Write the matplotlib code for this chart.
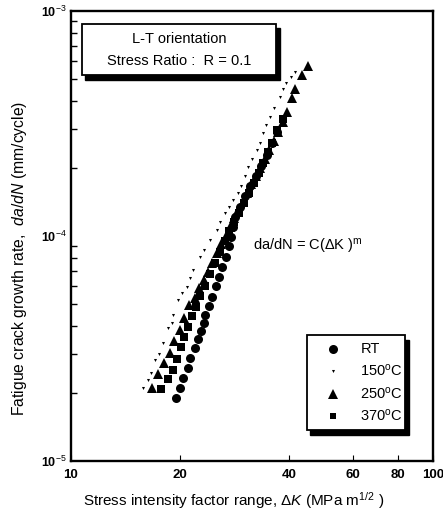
import matplotlib
matplotlib.use("Agg")
import matplotlib.pyplot as plt
from matplotlib.patches import Rectangle
from matplotlib.lines import Line2D

plt.rcParams['font.family'] = ['Liberation Sans', 'DejaVu Sans']
plt.rcParams['mathtext.fontset'] = 'custom'
plt.rcParams['mathtext.rm'] = 'Liberation Sans'
plt.rcParams['mathtext.it'] = 'Liberation Sans:italic'

# Fatigue crack growth data, delta K (MPa m^1/2) vs da/dN (mm/cycle)
rt_dk = [19.5, 20.0, 20.4, 21.0, 21.4, 22.0, 22.5, 22.9, 23.3, 23.5, 24.1, 24.5,
         25.2, 25.6, 26.1, 26.8, 27.4, 27.7, 28.1, 28.4, 29.3, 30.2, 31.2, 32.4,
         33.6, 34.8, 36.0, 37.2]
rt_rate = [1.91e-5, 2.12e-5, 2.35e-5, 2.60e-5, 2.88e-5, 3.17e-5, 3.47e-5, 3.78e-5,
           4.09e-5, 4.44e-5, 4.89e-5, 5.37e-5, 6.0e-5, 6.6e-5, 7.3e-5, 8.1e-5,
           9.0e-5, 9.9e-5, 1.10e-4, 1.22e-4, 1.35e-4, 1.50e-4, 1.66e-4, 1.85e-4,
           2.05e-4, 2.3e-4, 2.6e-4, 2.9e-4]

t150_dk = [15.8, 16.3, 16.7, 17.1, 17.5, 18.0, 18.6, 19.0, 19.2, 19.8, 20.3, 20.9,
           21.3, 21.8, 22.7, 23.3, 24.2, 25.3, 25.8, 26.6, 27.3, 28.1, 29.0, 29.6,
           30.3, 30.9, 31.7, 32.6, 33.3, 34.0, 34.7, 35.4, 36.5, 37.8, 38.5, 39.4,
           40.5, 41.6]
t150_rate = [2.12e-5, 2.3e-5, 2.45e-5, 2.81e-5, 3.0e-5, 3.33e-5, 3.89e-5, 4.1e-5,
             4.46e-5, 5.19e-5, 5.6e-5, 5.95e-5, 6.5e-5, 7.06e-5, 8.10e-5, 8.7e-5,
             9.6e-5, 1.06e-4, 1.15e-4, 1.26e-4, 1.35e-4, 1.44e-4, 1.55e-4, 1.66e-4,
             1.85e-4, 2.03e-4, 2.2e-4, 2.4e-4, 2.6e-4, 2.86e-4, 3.1e-4, 3.38e-4,
             3.7e-4, 4.16e-4, 4.5e-4, 4.77e-4, 5.1e-4, 5.38e-4]

t250_dk = [16.8, 17.4, 18.1, 18.8, 19.3, 20.0, 20.6, 21.2, 22.0, 22.6, 23.3, 24.0,
           24.6, 25.3, 26.0, 26.8, 27.5, 28.3, 29.0, 29.8, 30.6, 31.5, 32.4, 33.3,
           34.3, 35.3, 36.3, 37.4, 38.5, 39.5, 40.7, 41.5, 43.4, 45.3]
t250_rate = [2.12e-5, 2.43e-5, 2.72e-5, 3.03e-5, 3.42e-5, 3.82e-5, 4.33e-5, 4.94e-5,
             5.3e-5, 5.9e-5, 6.4e-5, 6.9e-5, 7.6e-5, 8.4e-5, 9.2e-5, 1.0e-4, 1.1e-4,
             1.2e-4, 1.3e-4, 1.42e-4, 1.55e-4, 1.7e-4, 1.85e-4, 2.0e-4, 2.2e-4,
             2.4e-4, 2.65e-4, 2.9e-4, 3.2e-4, 3.55e-4, 4.1e-4, 4.5e-4, 5.2e-4, 5.7e-4]

t370_dk = [17.7, 18.6, 19.2, 19.7, 20.1, 20.6, 21.1, 21.6, 22.2, 22.8, 23.5, 24.2,
           25.0, 25.8, 26.6, 27.4, 28.2, 29.1, 30.0, 31.0, 32.0, 33.0, 34.0, 35.0,
           36.0, 37.2, 38.5]
t370_rate = [2.08e-5, 2.31e-5, 2.54e-5, 2.85e-5, 3.22e-5, 3.55e-5, 3.95e-5, 4.4e-5,
             4.85e-5, 5.4e-5, 6.0e-5, 6.8e-5, 7.6e-5, 8.5e-5, 9.5e-5, 1.05e-4,
             1.15e-4, 1.27e-4, 1.4e-4, 1.55e-4, 1.72e-4, 1.9e-4, 2.1e-4, 2.35e-4,
             2.6e-4, 2.95e-4, 3.3e-4]

series_labels = ["RT", "150$^{\\mathrm{o}}$C", "250$^{\\mathrm{o}}$C", "370$^{\\mathrm{o}}$C"]
x_ticks = [10, 20, 40, 60, 80, 100]

fig = plt.figure(figsize=(4.43, 5.21), dpi=100)
ax = fig.add_axes([0.160, 0.115, 0.817, 0.864])
ax.set_xscale('log')
ax.set_yscale('log')
ax.set_xlim(10, 100)
ax.set_ylim(1e-5, 1e-3)

ax.plot(t150_dk, t150_rate, linestyle='none', marker='v', markersize=2.2,
        color='black', markeredgewidth=0)
ax.plot(t250_dk, t250_rate, linestyle='none', marker='^', markersize=6.8,
        color='black', markeredgewidth=0)
ax.plot(t370_dk, t370_rate, linestyle='none', marker='s', markersize=5.8,
        color='black', markeredgewidth=0)
ax.plot(rt_dk, rt_rate, linestyle='none', marker='o', markersize=6.5,
        color='black', markeredgewidth=0)

for s in ax.spines.values():
    s.set_linewidth(1.7)

ax.set_xticks(x_ticks)
ax.set_xticklabels([str(t) for t in x_ticks])
ax.xaxis.set_minor_locator(matplotlib.ticker.NullLocator())
ax.set_yticks([1e-5, 1e-4, 1e-3])
ax.set_yticklabels(["10$^{-5}$", "10$^{-4}$", "10$^{-3}$"])
ax.yaxis.set_minor_locator(matplotlib.ticker.LogLocator(base=10, subs=range(2, 10)))
ax.yaxis.set_minor_formatter(matplotlib.ticker.NullFormatter())
ax.tick_params(axis='both', which='both', direction='in')
ax.tick_params(axis='x', which='major', length=4, labelsize=9.5, pad=6)
ax.tick_params(axis='y', which='major', length=0, labelsize=9, pad=3)
ax.tick_params(axis='y', which='minor', length=4, width=1)
for lab in ax.get_xticklabels() + ax.get_yticklabels():
    lab.set_fontweight('bold')

# Boxes with a drop shadow
def shadow_box(x0, y0, w, h, off=0.010):
    ax.add_patch(Rectangle((x0 + off, y0 - off * 1.1), w, h, transform=ax.transAxes,
                           facecolor='black', edgecolor='black', zorder=5))
    ax.add_patch(Rectangle((x0, y0), w, h, transform=ax.transAxes,
                           facecolor='white', edgecolor='black', linewidth=1.3, zorder=6))

shadow_box(0.030, 0.858, 0.538, 0.114)
ax.text(0.300, 0.938, "L-T orientation", transform=ax.transAxes, ha='center',
        va='center', fontsize=10.5, zorder=7)
ax.text(0.300, 0.888, "Stress Ratio :  R = 0.1", transform=ax.transAxes, ha='center',
        va='center', fontsize=10.5, zorder=7)

ax.text(0.503, 0.476, "da/dN = C($\\Delta$K )$^{\\mathrm{m}}$", transform=ax.transAxes,
        ha='left', va='center', fontsize=10.5)

shadow_box(0.652, 0.070, 0.272, 0.210)
legend_items = [('o', 6.5), ('v', 2.2), ('^', 6.5), ('s', 5.0)]
for i, ((mk, ms), lab) in enumerate(zip(legend_items, series_labels)):
    yy = 0.250 - i * 0.050
    ax.add_line(Line2D([0.725], [yy], transform=ax.transAxes, marker=mk, markersize=ms,
                       color='black', markeredgewidth=0, linestyle='none', zorder=7))
    ax.text(0.800, yy, lab, transform=ax.transAxes, ha='left', va='center',
            fontsize=10.5, zorder=7)

fig.text(0.527, 0.040,
         "Stress intensity factor range, $\\mathit{\\Delta K}$ (MPa m$^{\\mathrm{1/2}}$ )",
         ha='center', va='center', fontsize=11)
fig.text(0.043, 0.505,
         "Fatigue crack growth rate,  $\\mathit{da/dN}$ (mm/cycle)",
         ha='center', va='center', rotation=90, fontsize=11.3)

fig.savefig("out.png", dpi=100)
